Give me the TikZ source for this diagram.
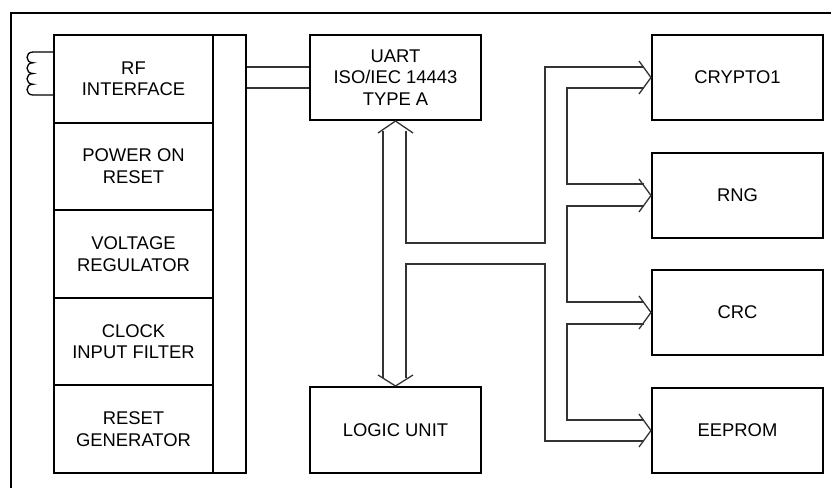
\documentclass[tikz,border=0pt]{standalone}
\usepackage{fontspec}
\setmainfont{Liberation Sans}
\begin{document}
\begin{tikzpicture}[x=1pt,y=-1pt,
  blk/.style={draw=black, line width=2pt, minimum width=171pt, minimum height=85pt, inner sep=0pt, align=center, font=\fontsize{18.4}{21.5}\selectfont},
  lft/.style={blk, minimum width=159pt, minimum height=87.6pt},
  busln/.style={draw=black!80, line width=1.3pt},
  frame/.style={draw=black, line width=2pt}]
\useasboundingbox (0,0) rectangle (831,488);
\draw[frame] (11,488) -- (11,13) -- (831,13);
% left column
\node[lft] (rf)  at (133.5,78.8)  {RF\\INTERFACE};
\node[lft] (por) at (133.5,166.4) {POWER ON\\RESET};
\node[lft] (vr)  at (133.5,254)   {VOLTAGE\\REGULATOR};
\node[lft] (cif) at (133.5,341.6) {CLOCK\\INPUT FILTER};
\node[lft] (rg)  at (133.5,429.2) {RESET\\GENERATOR};
\node[draw, line width=2pt, minimum width=33pt, minimum height=438pt, inner sep=0pt] (strip) at (229.5,254) {};
% centre
\node[blk] (uart) at (395.5,77.5) {UART\\ISO/IEC 14443\\TYPE A};
\node[blk, minimum height=86pt] (logic) at (395.5,430) {LOGIC UNIT};
% right column
\node[blk] (crypto) at (737.5,77.5)  {CRYPTO1};
\node[blk] (rng)    at (737.5,195.5) {RNG};
\node[blk] (crc)    at (737.5,312.5) {CRC};
\node[blk] (eeprom) at (737.5,430.5) {EEPROM};
% coil
\draw[line width=1.3pt] (rf.west |- 0,52) -- (33,52)
  .. controls (25,52) and (25,62.75) .. (33,62.75)
  .. controls (25,62.75) and (25,73.5) .. (33,73.5)
  .. controls (25,73.5) and (25,84.25) .. (33,84.25)
  .. controls (25,84.25) and (25,95) .. (33,95)
  -- (rf.west |- 0,95);
% strip to UART
\draw[busln] (strip.east |- 0,67) -- (uart.west |- 0,67);
\draw[busln] (strip.east |- 0,88) -- (uart.west |- 0,88);
% double arrow UART <-> LOGIC
\draw[busln] (378,133) -- (uart.south) -- (413,133);
\draw[busln] (378,375) -- (logic.north) -- (413,375);
\draw[busln] (383,130.5) -- (383,377.5);
\draw[busln] (406,130.5) -- (406,243) -- (545,243) -- (545,67) -- (644,67);
\draw[busln] (406,377.5) -- (406,264) -- (545,264) -- (545,441) -- (644,441);
\draw[busln] (644,88) -- (567,88) -- (567,184) -- (644,184);
\draw[busln] (644,206) -- (567,206) -- (567,302) -- (644,302);
\draw[busln] (644,324) -- (567,324) -- (567,420) -- (644,420);
% chevrons into right boxes
\draw[busln] (639,61) -- (crypto.west) -- (639,94);
\draw[busln] (639,179) -- (rng.west) -- (639,212);
\draw[busln] (639,296) -- (crc.west) -- (639,329);
\draw[busln] (639,414) -- (eeprom.west) -- (639,447);
\end{tikzpicture}
\end{document}
